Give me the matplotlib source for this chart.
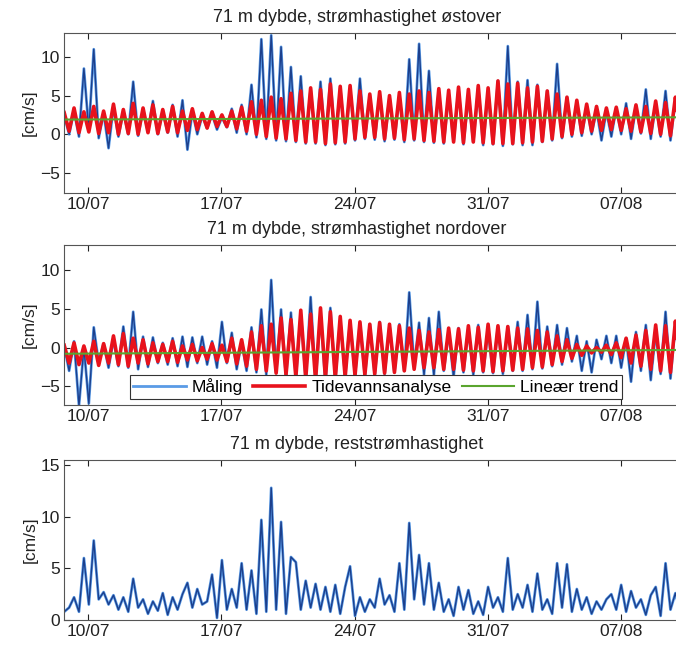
import numpy as np
import pandas as pd
import matplotlib
matplotlib.use('Agg')
import matplotlib.pyplot as plt
import matplotlib.dates as mdates

plt.rcParams['font.family'] = ['Liberation Sans', 'DejaVu Sans']

# tidsakse: ett punkt pr. ekstremverdi (ca. 6.21 t mellom topp og bunn)
t0 = pd.Timestamp('2012-07-08 18:00')
n = 129
tid = t0 + pd.to_timedelta(np.arange(n) * 6.21, unit='h')

# strømhastighet østover [cm/s]
ost_maling = [
    2.5, 0.0, 3.0, -0.3, 8.5, 0.5, 11.0, -0.5, 2.8, -1.8,
    3.6, -0.3, 3.0, 0.0, 6.8, -0.2, 3.2, 0.3, 4.3, 0.0,
    3.0, 0.2, 3.8, -0.3, 4.4, -2.0, 3.0, 0.0, 2.4, 0.8,
    2.6, 0.6, 2.2, 0.9, 3.3, 0.2, 3.8, 0.0, 6.4, -0.4,
    12.3, -0.6, 12.8, -0.8, 11.3, -0.9, 8.7, -1.0, 7.5, -1.2,
    5.8, -1.2, 6.8, -1.4, 7.2, -1.3, 6.0, -1.2, 5.9, -0.8,
    7.2, -0.6, 5.0, -0.7, 5.2, -0.9, 4.8, -0.7, 5.0, -1.0,
    9.7, -0.8, 11.7, -1.0, 8.2, -1.1, 5.5, -1.2, 5.2, -1.0,
    5.8, -1.3, 4.9, -1.0, 6.0, -1.4, 5.6, -1.3, 6.9, -1.5,
    11.4, -1.3, 6.8, -1.4, 7.0, -1.4, 6.4, -1.0, 5.6, -0.8,
    9.1, -0.5, 4.8, -0.3, 4.2, -0.2, 3.6, 0.0, 3.2, -0.8,
    3.0, -0.3, 3.4, 0.0, 4.0, -0.6, 3.6, 0.1, 5.8, -0.6,
    4.0, -0.3, 5.6, -0.8, 4.6, -0.6, 4.2, -0.8, 5.4]
ost_tidevann = [
    2.8, 0.4, 3.4, 0.2, 2.9, 0.3, 3.6, 0.1, 3.0, 0.2,
    3.9, 0.0, 3.2, 0.1, 4.0, 0.0, 3.4, 0.2, 3.8, 0.1,
    3.2, 0.3, 3.6, 0.2, 3.0, 0.5, 3.3, 0.6, 2.7, 0.8,
    2.9, 1.0, 2.5, 1.0, 3.0, 0.7, 3.5, 0.4, 4.2, 0.0,
    4.4, -0.3, 4.8, -0.5, 4.6, -0.6, 5.3, -0.8, 5.6, -1.0,
    6.0, -1.0, 5.8, -1.2, 6.5, -1.1, 6.2, -1.0, 6.3, -0.6,
    5.6, -0.4, 5.2, -0.4, 5.5, -0.6, 5.0, -0.5, 5.4, -0.7,
    5.2, -0.6, 5.6, -0.8, 5.4, -0.9, 5.9, -1.0, 5.7, -1.0,
    6.1, -1.1, 5.8, -1.0, 6.3, -1.1, 6.0, -1.2, 6.9, -1.2,
    6.5, -1.2, 6.6, -1.1, 6.0, -1.0, 6.2, -0.9, 5.6, -0.6,
    5.2, -0.3, 4.8, 0.0, 4.4, 0.2, 3.9, 0.4, 3.6, 0.5,
    3.4, 0.6, 3.5, 0.5, 3.3, 0.4, 3.8, 0.3, 3.6, 0.1,
    4.3, 0.0, 4.1, -0.2, 4.8, -0.3, 4.5, -0.5, 5.0]
ost_trend = [1.9, 2.2]

# strømhastighet nordover [cm/s]
nord_maling = [
    0.2, -3.0, 0.8, -7.5, 0.0, -7.2, 2.6, -2.0, 0.5, -2.6,
    1.0, -2.4, 2.7, -2.6, 4.6, -2.8, 1.4, -2.5, 1.3, -2.0,
    0.6, -2.2, 1.2, -2.4, 1.4, -2.5, 1.3, -2.0, 1.4, -2.2,
    0.8, -2.6, 3.3, -2.0, 1.9, -2.8, 0.8, -3.0, 2.6, -3.2,
    4.9, -3.5, 8.7, -3.2, 4.9, -3.8, 4.5, -3.8, 4.3, -4.0,
    6.5, -4.2, 4.3, -4.4, 5.1, -4.0, 3.5, -3.6, 3.3, -3.5,
    3.2, -3.6, 3.0, -3.5, 3.3, -3.4, 2.8, -3.2, 3.0, -3.0,
    7.1, -2.5, 3.2, -3.5, 3.8, -3.6, 4.6, -3.0, 2.0, -3.8,
    2.5, -3.2, 2.4, -3.5, 2.9, -3.2, 2.2, -3.3, 2.7, -3.4,
    2.7, -3.0, 3.3, -3.0, 4.2, -2.8, 5.9, -2.7, 2.7, -2.4,
    2.9, -2.2, 2.5, -1.8, 1.5, -3.0, 0.8, -3.2, 1.0, -1.5,
    1.5, -2.0, 1.5, -2.6, 1.2, -4.4, 2.0, -3.0, 2.9, -4.2,
    2.0, -3.4, 4.6, -4.0, 3.2, -3.6, 3.8, -3.8, 3.6]
nord_tidevann = [
    0.3, -2.0, 0.6, -2.2, 0.2, -2.0, 0.8, -2.3, 0.5, -2.0,
    1.5, -2.2, 1.8, -2.4, 1.2, -2.0, 1.0, -2.1, 0.6, -1.8,
    0.4, -1.8, 0.8, -1.9, 0.2, -1.6, 0.4, -1.7, 0.0, -1.5,
    0.5, -1.6, 0.3, -1.8, 1.2, -2.1, 1.0, -2.4, 2.0, -2.8,
    2.8, -3.0, 3.0, -3.3, 3.8, -3.5, 3.6, -3.8, 4.8, -4.0,
    4.3, -4.2, 5.1, -4.0, 4.6, -4.0, 4.0, -3.8, 3.5, -3.6,
    3.3, -3.5, 3.0, -3.4, 3.2, -3.3, 3.0, -3.2, 2.8, -3.0,
    2.5, -2.8, 2.2, -2.6, 2.0, -2.6, 2.3, -2.8, 2.5, -2.8,
    2.4, -2.9, 2.8, -3.0, 2.6, -3.0, 3.0, -3.1, 2.8, -3.0,
    2.7, -2.9, 2.5, -2.8, 2.4, -2.6, 2.2, -2.5, 2.0, -2.2,
    1.5, -1.8, 1.0, -1.4, 0.4, -1.0, 0.2, -0.7, 0.0, -0.6,
    0.3, -0.9, 0.6, -1.3, 1.2, -2.0, 1.6, -2.4, 2.2, -2.8,
    2.9, -3.0, 2.8, -3.2, 3.4, -3.3, 3.0, -3.5, 3.5]
nord_trend = [-0.8, -0.3]

# reststrømhastighet [cm/s]
rest = [
    0.8, 1.2, 2.2, 0.8, 6.0, 1.5, 7.7, 2.0, 2.7, 1.5,
    2.4, 1.0, 2.2, 0.8, 4.0, 1.2, 2.0, 0.6, 1.8, 0.9,
    2.6, 0.5, 2.2, 1.0, 2.5, 3.6, 1.2, 3.0, 1.5, 1.8,
    4.4, 0.2, 5.8, 1.0, 3.0, 1.2, 5.5, 1.0, 4.8, 0.6,
    9.7, 0.8, 12.8, 1.0, 9.5, 0.6, 6.1, 5.6, 1.0, 3.8,
    1.2, 3.5, 1.0, 3.2, 0.8, 3.4, 0.6, 3.2, 5.2, 0.4,
    2.2, 0.8, 2.0, 1.2, 4.0, 1.5, 2.4, 0.8, 5.5, 1.0,
    9.4, 2.0, 6.3, 1.5, 5.5, 1.0, 3.6, 0.8, 2.0, 0.4,
    3.2, 1.0, 2.9, 0.6, 1.8, 0.5, 3.2, 1.2, 2.2, 0.8,
    6.0, 1.0, 2.5, 1.2, 3.4, 0.8, 4.5, 1.0, 2.0, 0.6,
    5.5, 1.2, 5.4, 0.8, 3.0, 1.0, 2.2, 0.6, 1.8, 1.0,
    2.0, 2.5, 1.0, 3.4, 0.8, 2.8, 1.2, 2.0, 0.5, 2.4,
    3.2, 0.4, 5.5, 1.0, 2.6, 0.8, 3.0, 1.2, 2.0]

titler = ['71 m dybde, strømhastighet østover',
          '71 m dybde, strømhastighet nordover',
          '71 m dybde, reststrømhastighet']

lys_bla = '#5a9be6'
mork_bla = '#1c3f8c'
rod = '#e8121c'
gronn = '#5aa52e'

fig = plt.figure(figsize=(6.76, 6.46), dpi=100)
bredde = 626 / 676
ax1 = fig.add_axes([64 / 676, 1 - 193 / 646, bredde, 160 / 646])
ax2 = fig.add_axes([64 / 676, 1 - 405 / 646, bredde, 160 / 646])
ax3 = fig.add_axes([64 / 676, 1 - 620 / 646, bredde, 160 / 646])

trend_tid = [tid[0], tid[-1]]

for ax, maling, tidevann, trend in [(ax1, ost_maling, ost_tidevann, ost_trend),
                                    (ax2, nord_maling, nord_tidevann, nord_trend)]:
    ax.plot(tid, maling, color=lys_bla, lw=2.0, label='Måling')
    ax.plot(tid, maling, color=mork_bla, lw=1.0)
    ax.plot(tid, tidevann, color=rod, lw=2.6, label='Tidevannsanalyse')
    ax.plot(trend_tid, trend, color=gronn, lw=1.5, label='Lineær trend')

ax3.plot(tid, rest, color=lys_bla, lw=2.0)
ax3.plot(tid, rest, color=mork_bla, lw=1.0)

xstart = pd.Timestamp('2012-07-10') - pd.Timedelta(hours=24 / 19.05 * 24)
xslutt = xstart + pd.Timedelta(days=626 / 19.05)
tikk = pd.to_datetime(['2012-07-10', '2012-07-17', '2012-07-24', '2012-07-31', '2012-08-07'])

for ax, tittel in zip([ax1, ax2, ax3], titler):
    ax.set_xlim(xstart, xslutt)
    ax.set_xticks(tikk)
    ax.xaxis.set_major_formatter(mdates.DateFormatter('%d/%m'))
    ax.tick_params(direction='in', top=True, right=True, labelsize=12.5,
                   colors='#222222', length=4, pad=3)
    ax.set_ylabel('[cm/s]', fontsize=12.5, color='#222222', labelpad=2)
    t = ax.set_title(tittel, fontsize=13, color='#222222', pad=8)
    t.set_x((357 - 64) / 626)
    for s in ax.spines.values():
        s.set_color('#555555')

ax1.set_ylim(-7.6, 13.1)
ax1.set_yticks([-5, 0, 5, 10])
ax2.set_ylim(-7.4, 13.2)
ax2.set_yticks([-5, 0, 5, 10])
ax3.set_ylim(0, 15.5)
ax3.set_yticks([0, 5, 10, 15])

leg = ax2.legend(loc='lower center', bbox_to_anchor=((376 - 64) / 626, 0.04), ncol=3,
                 fontsize=12.5, frameon=True, fancybox=False, framealpha=1,
                 edgecolor='#333333', handlelength=3.0, columnspacing=0.6,
                 borderpad=0.2, handletextpad=0.35, borderaxespad=0.0)
leg.get_frame().set_linewidth(0.8)

fig.savefig('out.png', dpi=100)
